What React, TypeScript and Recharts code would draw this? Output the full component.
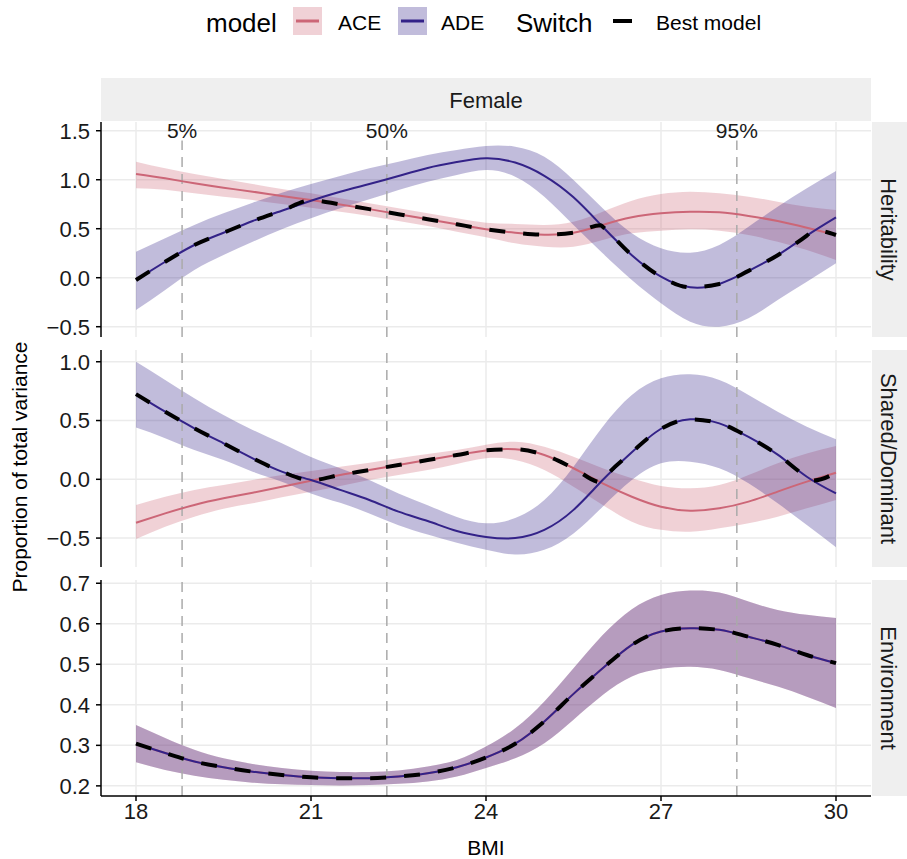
import React from "react";
import {
    ComposedChart,
    Area,
    Line,
    XAxis,
    YAxis,
    CartesianGrid,
    ReferenceLine,
    ReferenceDot,
} from "recharts";

// BMI grid the curves were read at
const bmi = [18, 18.5, 19, 19.5, 20, 20.5, 21, 21.5, 22, 22.5, 23, 23.5, 24, 24.5, 25, 25.5, 26, 26.5, 27, 27.5, 28, 28.5, 29, 29.5, 30];
const bmiTicks = [18, 21, 24, 27, 30];

// Heritability
const herAceFit = [1.058, 1.014, 0.963, 0.918, 0.878, 0.834, 0.793, 0.748, 0.7, 0.648, 0.597, 0.545, 0.494, 0.459, 0.439, 0.459, 0.538, 0.616, 0.657, 0.673, 0.667, 0.63, 0.579, 0.51, 0.436];
const herAceLo = [0.912, 0.897, 0.861, 0.827, 0.793, 0.752, 0.714, 0.673, 0.63, 0.579, 0.528, 0.469, 0.412, 0.351, 0.316, 0.316, 0.385, 0.453, 0.48, 0.494, 0.48, 0.436, 0.367, 0.283, 0.181];
const herAceHi = [1.184, 1.116, 1.058, 1.007, 0.956, 0.905, 0.861, 0.81, 0.759, 0.708, 0.657, 0.606, 0.561, 0.548, 0.538, 0.571, 0.673, 0.786, 0.854, 0.878, 0.861, 0.827, 0.776, 0.724, 0.691];
const herAdeFit = [-0.023, 0.163, 0.334, 0.459, 0.579, 0.684, 0.786, 0.878, 0.956, 1.038, 1.12, 1.18, 1.218, 1.175, 1.04, 0.82, 0.52, 0.23, 0.01, -0.098, -0.064, 0.07, 0.23, 0.43, 0.616];
const herAdeLo = [-0.33, -0.125, 0.079, 0.232, 0.367, 0.494, 0.606, 0.708, 0.8, 0.895, 0.98, 1.048, 1.099, 1.031, 0.827, 0.538, 0.249, -0.023, -0.261, -0.449, -0.5, -0.414, -0.228, -0.041, 0.147];
const herAdeHi = [0.265, 0.402, 0.538, 0.657, 0.765, 0.867, 0.956, 1.038, 1.116, 1.184, 1.252, 1.303, 1.344, 1.337, 1.235, 0.997, 0.708, 0.453, 0.3, 0.255, 0.334, 0.52, 0.724, 0.912, 1.089];

// Shared / Dominant
const shdAceFit = [-0.369, -0.29, -0.218, -0.162, -0.114, -0.063, -0.012, 0.037, 0.079, 0.122, 0.164, 0.207, 0.246, 0.255, 0.207, 0.094, -0.034, -0.148, -0.233, -0.267, -0.247, -0.19, -0.105, -0.02, 0.056];
const shdAceLo = [-0.508, -0.403, -0.318, -0.25, -0.204, -0.153, -0.105, -0.057, -0.006, 0.037, 0.079, 0.13, 0.179, 0.164, 0.079, -0.063, -0.218, -0.36, -0.43, -0.446, -0.417, -0.374, -0.318, -0.247, -0.176];
const shdAceHi = [-0.218, -0.148, -0.09, -0.048, -0.006, 0.037, 0.071, 0.107, 0.141, 0.179, 0.215, 0.249, 0.294, 0.32, 0.277, 0.192, 0.094, 0.008, -0.057, -0.077, -0.049, 0.037, 0.136, 0.22, 0.283];
const shdAdeFit = [0.725, 0.575, 0.434, 0.306, 0.179, 0.065, -0.006, -0.09, -0.176, -0.275, -0.355, -0.44, -0.49, -0.5, -0.43, -0.26, -0.006, 0.23, 0.43, 0.51, 0.476, 0.36, 0.21, 0.022, -0.12];
const shdAdeLo = [0.44, 0.35, 0.25, 0.164, 0.065, -0.02, -0.12, -0.2, -0.29, -0.39, -0.47, -0.54, -0.6, -0.64, -0.6, -0.46, -0.233, -0.006, 0.136, 0.15, 0.094, -0.034, -0.204, -0.389, -0.578];
const shdAdeHi = [1.0, 0.845, 0.69, 0.547, 0.42, 0.306, 0.19, 0.094, -0.006, -0.12, -0.22, -0.32, -0.374, -0.33, -0.176, 0.107, 0.447, 0.717, 0.859, 0.893, 0.845, 0.717, 0.575, 0.447, 0.34];

// Environment (ACE and ADE estimates coincide)
const envFit = [0.304, 0.281, 0.26, 0.246, 0.235, 0.227, 0.221, 0.219, 0.219, 0.223, 0.231, 0.246, 0.27, 0.304, 0.359, 0.427, 0.49, 0.548, 0.581, 0.589, 0.585, 0.568, 0.548, 0.523, 0.503];
const envLo = [0.258, 0.239, 0.225, 0.215, 0.208, 0.204, 0.202, 0.201, 0.202, 0.205, 0.211, 0.223, 0.244, 0.268, 0.305, 0.363, 0.424, 0.47, 0.489, 0.494, 0.486, 0.466, 0.445, 0.42, 0.392];
const envHi = [0.35, 0.318, 0.289, 0.268, 0.254, 0.244, 0.237, 0.234, 0.234, 0.238, 0.248, 0.264, 0.297, 0.342, 0.408, 0.49, 0.572, 0.636, 0.671, 0.682, 0.677, 0.655, 0.634, 0.622, 0.614];

// Best model (switching) curve, with the points where it changes model
const bestBmi = [18, 18.5, 19, 19.5, 20, 20.5, 21, 21.5, 22, 22.5, 23, 23.5, 24, 24.5, 25, 25.5, 25.97, 26, 26.5, 27, 27.5, 28, 28.5, 29, 29.5, 29.62, 30];
const bestHer = [-0.023, 0.163, 0.334, 0.459, 0.579, 0.684, 0.79, 0.748, 0.7, 0.648, 0.597, 0.545, 0.494, 0.459, 0.439, 0.459, 0.535, 0.52, 0.23, 0.01, -0.098, -0.064, 0.07, 0.23, 0.43, 0.485, 0.436];
const bestShd = [0.725, 0.575, 0.434, 0.306, 0.179, 0.065, -0.008, 0.037, 0.079, 0.122, 0.164, 0.207, 0.246, 0.255, 0.207, 0.094, -0.025, -0.006, 0.23, 0.43, 0.51, 0.476, 0.36, 0.21, 0.022, -0.01, 0.056];

const percentiles = [
    { label: "5%", bmi: 18.79 },
    { label: "50%", bmi: 22.3 },
    { label: "95%", bmi: 28.3 },
];

const ACE_COL = "#CC6677";
const ADE_COL = "#332288";
const FONT = '"Liberation Sans", Arial, Helvetica, sans-serif';
const X_DOMAIN: [number, number] = [17.4, 30.6];
const CURVE = "natural";
const PAD = 12; // room above/below a panel so edge tick labels are not clipped

const makeRows = (aF: number[], aL: number[], aH: number[], dF: number[], dL: number[], dH: number[]) =>
    bmi.map((b, i) => ({
        bmi: b,
        ace: aF[i],
        aceBand: [aL[i], aH[i]],
        ade: dF[i],
        adeBand: [dL[i], dH[i]],
    }));

const herRows = makeRows(herAceFit, herAceLo, herAceHi, herAdeFit, herAdeLo, herAdeHi);
const shdRows = makeRows(shdAceFit, shdAceLo, shdAceHi, shdAdeFit, shdAdeLo, shdAdeHi);
const envRows = makeRows(envFit, envLo, envHi, envFit, envLo, envHi);

const herBest = bestBmi.map((b, i) => ({ bmi: b, best: bestHer[i] }));
const shdBest = bestBmi.map((b, i) => ({ bmi: b, best: bestShd[i] }));
const envBest = bmi.map((b, i) => ({ bmi: b, best: envFit[i] }));

const fmt = (v: number) => v.toFixed(1).replace("-", "\u2212");

type PanelProps = {
    rows: any[];
    best: any[];
    domain: [number, number];
    ticks: number[];
    top: number;
    height: number;
    strip: string;
    showX?: boolean;
    labels?: boolean;
};

const Panel: React.FC<PanelProps> = ({ rows, best, domain, ticks, top, height, strip, showX = false, labels = false }) => {
    const axisH = showX ? 40 : 0;
    const bottomPad = showX ? 0 : PAD;
    return (
        <>
            <div style={{ position: "absolute", left: 0, top: top - PAD, pointerEvents: "none" }}>
                <ComposedChart
                    width={871}
                    height={height + axisH + PAD + bottomPad}
                    data={rows}
                    margin={{ top: PAD, right: 0, bottom: bottomPad, left: 0 }}
                    style={{ fontFamily: FONT }}
                >
                    <CartesianGrid stroke="#EBEBEB" strokeWidth={1.5} verticalValues={bmiTicks} horizontalValues={ticks} />
                    <XAxis
                        type="number"
                        dataKey="bmi"
                        domain={X_DOMAIN}
                        ticks={bmiTicks}
                        interval={0}
                        allowDataOverflow
                        hide={!showX}
                        height={axisH}
                        axisLine={{ stroke: "#000", strokeWidth: 1.5 }}
                        tickLine={{ stroke: "#000", strokeWidth: 1.5 }}
                        tickSize={5}
                        tickMargin={2}
                        tick={{ fontSize: 22, fill: "#1a1a1a" }}
                    />
                    <YAxis
                        type="number"
                        domain={domain}
                        ticks={ticks}
                        interval={0}
                        allowDataOverflow
                        width={101}
                        axisLine={{ stroke: "#000", strokeWidth: 1.5 }}
                        tickLine={{ stroke: "#000", strokeWidth: 1.5 }}
                        tickSize={5}
                        tickMargin={6}
                        tickFormatter={fmt}
                        tick={{ fontSize: 22, fill: "#1a1a1a" }}
                    />
                    <Area type={CURVE} dataKey="aceBand" stroke="none" fill={ACE_COL} fillOpacity={0.3} isAnimationActive={false} activeDot={false} />
                    <Area type={CURVE} dataKey="adeBand" stroke="none" fill={ADE_COL} fillOpacity={0.3} isAnimationActive={false} activeDot={false} />
                    {percentiles.map((p) =>
                        labels ? (
                            <ReferenceLine
                                key={p.label}
                                segment={[{ x: p.bmi, y: domain[0] }, { x: p.bmi, y: 1.4 }]}
                                stroke="#AAAAAA"
                                strokeWidth={1.5}
                                strokeDasharray="10 7"
                            />
                        ) : (
                            <ReferenceLine key={p.label} x={p.bmi} stroke="#AAAAAA" strokeWidth={1.5} strokeDasharray="10 7" />
                        )
                    )}
                    {labels &&
                        percentiles.map((p) => (
                            <ReferenceDot
                                key={"lab" + p.label}
                                x={p.bmi}
                                y={1.5}
                                r={1}
                                fill="none"
                                stroke="none"
                                label={{ value: p.label, position: "center", fontSize: 21, fill: "#1a1a1a" }}
                            />
                        ))}
                    <Line type={CURVE} dataKey="ace" stroke={ACE_COL} strokeWidth={2} dot={false} activeDot={false} isAnimationActive={false} />
                    <Line type={CURVE} dataKey="ade" stroke={ADE_COL} strokeWidth={2} dot={false} activeDot={false} isAnimationActive={false} />
                    <Line
                        type="monotone"
                        data={best}
                        dataKey="best"
                        stroke="#000"
                        strokeWidth={4}
                        strokeDasharray="16 18"
                        dot={false}
                        activeDot={false}
                        isAnimationActive={false}
                    />
                </ComposedChart>
            </div>
            <svg style={{ position: "absolute", left: 872, top: top }} width={35} height={height}>
                <rect x={0} y={0} width={35} height={height} fill="#EFEFEF" />
                <text
                    transform={`translate(9, ${height / 2}) rotate(90)`}
                    textAnchor="middle"
                    fontSize={22}
                    fill="#1a1a1a"
                    fontFamily={FONT}
                >
                    {strip}
                </text>
            </svg>
        </>
    );
};

const Legend: React.FC = () => (
    <svg style={{ position: "absolute", left: 0, top: 0 }} width={907} height={50} fontFamily={FONT}>
        <text x={206} y={32} fontSize={26} fill="#000">model</text>
        <rect x={293} y={7} width={29} height={28} fill={ACE_COL} fillOpacity={0.3} />
        <line x1={296} x2={319} y1={21} y2={21} stroke={ACE_COL} strokeWidth={3} />
        <text x={338} y={30} fontSize={21} fill="#000">ACE</text>
        <rect x={398} y={7} width={29} height={28} fill={ADE_COL} fillOpacity={0.3} />
        <line x1={401} x2={424} y1={21} y2={21} stroke={ADE_COL} strokeWidth={3} />
        <text x={441} y={30} fontSize={21} fill="#000">ADE</text>
        <text x={516} y={32} fontSize={26} fill="#000">Switch</text>
        <line x1={613} x2={632} y1={21} y2={21} stroke="#000" strokeWidth={4} />
        <text x={656} y={30} fontSize={21} fill="#000">Best model</text>
    </svg>
);

export default function App() {
    return (
        <div style={{ position: "absolute", left: 0, top: 0, width: 907, height: 859, background: "#fff", fontFamily: FONT }}>
            <Legend />
            <svg style={{ position: "absolute", left: 0, top: 0 }} width={907} height={859} fontFamily={FONT}>
                <rect x={101} y={78} width={770} height={43} fill="#EFEFEF" />
                <text x={486} y={108} textAnchor="middle" fontSize={22} fill="#1a1a1a">Female</text>
                <text transform="translate(27, 467) rotate(-90)" textAnchor="middle" fontSize={21} fill="#000">
                    Proportion of total variance
                </text>
                <text x={486} y={855} textAnchor="middle" fontSize={21} fill="#000">BMI</text>
            </svg>
            <Panel rows={herRows} best={herBest} domain={[-0.605, 1.589]} ticks={[-0.5, 0, 0.5, 1, 1.5]} top={122} height={215} strip="Heritability" labels />
            <Panel rows={shdRows} best={shdBest} domain={[-0.746, 1.1]} ticks={[-0.5, 0, 0.5, 1]} top={350} height={217} strip="Shared/Dominant" />
            <Panel rows={envRows} best={envBest} domain={[0.175, 0.708]} ticks={[0.2, 0.3, 0.4, 0.5, 0.6, 0.7]} top={580} height={216} strip="Environment" showX />
        </div>
    );
}
